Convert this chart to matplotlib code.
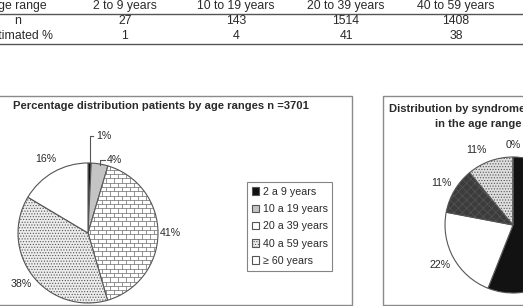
import matplotlib
matplotlib.use('Agg')
import matplotlib.pyplot as plt
import numpy as np
from matplotlib.collections import LineCollection
from matplotlib.patches import Rectangle

plt.rcParams['font.family'] = ['Liberation Sans', 'DejaVu Sans']
plt.rcParams['hatch.linewidth'] = 0.5

# ---------------- data ----------------
table_header = ["Age range", "2 to 9 years", "10 to 19 years", "20 to 39 years", "40 to 59 years"]
table_n = [27, 143, 1514, 1408]
table_pct = [1, 4, 41, 38]

age_groups = ["2 a 9 years", "10 a 19 years", "20 a 39 years", "40 a 59 years", "\u2265 60 years"]
age_counts = [27, 143, 1514, 1408, 609]
age_pct_labels = ["1%", "4%", "41%", "38%", "16%"]

syndrome_pct = [56, 22, 11, 11, 0]
syndrome_labels = ["", "22%", "11%", "11%", "0%"]

left_title = "Percentage distribution patients by age ranges n =3701"
right_title_1 = "Distribution by syndromes"
right_title_2 = "in the age range 2 to 9 years"

# ---------------- figure ----------------
W, H = 523, 306
fig = plt.figure(figsize=(W / 100, H / 100), dpi=100)
bg = fig.add_axes([0, 0, 1, 1])
bg.set_xlim(0, W)
bg.set_ylim(H, 0)
bg.axis('off')

TXT = '#2a2a2a'
LINE = '#555555'
FS = 8.8
LFS = 7.7

# table
col_x = [18, 125, 236, 346, 456]
bg.text(col_x[0], 6, table_header[0], ha='center', va='center', fontsize=FS, color=TXT)
for x, s in zip(col_x[1:], table_header[1:]):
    bg.text(x, 6, s, ha='center', va='center', fontsize=FS, color=TXT)
bg.text(col_x[0], 21, "n", ha='center', va='center', fontsize=FS, color=TXT)
bg.text(col_x[0], 36, "Estimated %", ha='center', va='center', fontsize=FS, color=TXT)
for x, v in zip(col_x[1:], table_n):
    bg.text(x, 21, str(v), ha='center', va='center', fontsize=FS, color=TXT)
for x, v in zip(col_x[1:], table_pct):
    bg.text(x, 36, str(v), ha='center', va='center', fontsize=FS, color=TXT)
bg.plot([0, W], [14, 14], color=LINE, lw=1)
bg.plot([0, W], [44, 44], color=LINE, lw=1)

# panel frames
bg.add_patch(Rectangle((-5, 96), 357, 209, fill=False, ec='#8a8a8a', lw=1))
bg.add_patch(Rectangle((383, 96), 200, 209, fill=False, ec='#8a8a8a', lw=1))

# titles (fit width)
t1 = bg.text(13, 106, left_title, fontsize=9, fontweight='bold', color=TXT, va='center', ha='left')
fig.canvas.draw()
r = fig.canvas.get_renderer()
w = t1.get_window_extent(r).width
tfs = 9 * 297 / w
t1.set_fontsize(tfs)
bg.text(389, 109, right_title_1, fontsize=tfs, fontweight='bold', color=TXT, va='center', ha='left')
bg.text(435, 124, right_title_2, fontsize=tfs, fontweight='bold', color=TXT, va='center', ha='left')

# ---------------- left pie ----------------
cxL, cyL, rL = 88, 233, 70
axL = fig.add_axes([(cxL - rL) / W, (H - cyL - rL) / H, 2 * rL / W, 2 * rL / H])
colorsL = ['#111111', '#c4c4c4', 'white', '#ececec', 'white']
wedgesL, _ = axL.pie(age_counts, colors=colorsL, startangle=90, counterclock=False,
                     wedgeprops=dict(edgecolor=LINE, linewidth=0.8))
wedgesL[3].set_hatch('......')
axL.set_xlim(-1, 1)
axL.set_ylim(-1, 1)
axL.axis('off')

# brick texture for 20-39 wedge
dy = 4.3 / rL
bw = 8.0 / rL
segs = []
for i, y in enumerate(np.arange(-1.0, 1.0, dy)):
    segs.append([(-1, y), (1, y)])
    off = (i % 2) * bw / 2
    for x in np.arange(-1 + off, 1, bw):
        segs.append([(x, y), (x, y + dy)])
lc = LineCollection(segs, colors='#6a6a6a', linewidths=0.5)
axL.add_collection(lc)
lc.set_clip_path(wedgesL[2])

def mid_angle(wd):
    return np.deg2rad((wd.theta1 + wd.theta2) / 2)

label_dist = [None, None, 1.17, 1.2, 1.21]
for i, wd in enumerate(wedgesL):
    a = mid_angle(wd)
    if i == 0:
        x0 = np.cos(a)
        axL.plot([x0, x0, x0 + 0.05], [np.sin(a), 1.39, 1.39], color=LINE, lw=0.8, clip_on=False)
        axL.text(x0 + 0.09, 1.39, age_pct_labels[i], fontsize=LFS, color=TXT, va='center', ha='left')
    elif i == 1:
        x0, y0 = np.cos(a), np.sin(a)
        axL.plot([x0, x0, x0 + 0.07], [y0 - 0.01, 1.04, 1.04], color=LINE, lw=0.8, clip_on=False)
        axL.text(x0 + 0.1, 1.04, age_pct_labels[i], fontsize=LFS, color=TXT, va='center', ha='left')
    else:
        d = label_dist[i]
        axL.text(d * np.cos(a), d * np.sin(a), age_pct_labels[i], fontsize=LFS, color=TXT,
                 va='center', ha='center')

leg = fig.legend(wedgesL, age_groups, loc='upper left', bbox_to_anchor=(247 / W, 1 - 182 / H),
                 frameon=True, fancybox=False, edgecolor='#666666', fontsize=LFS,
                 handlelength=0.7, handleheight=0.7, handletextpad=0.3, labelspacing=0.68,
                 borderpad=0.45, borderaxespad=0)
leg.get_frame().set_linewidth(0.8)
for t in leg.get_texts():
    t.set_color(TXT)

# ---------------- right pie ----------------
cxR, cyR, rR = 513, 225, 68
axR = fig.add_axes([(cxR - rR) / W, (H - cyR - rR) / H, 2 * rR / W, 2 * rR / H])
colorsR = ['#121212', 'white', '#3c3c3c', '#dedede', '#888888']
wedgesR, _ = axR.pie(syndrome_pct, colors=colorsR, startangle=90, counterclock=False,
                     wedgeprops=dict(edgecolor=LINE, linewidth=0.8))
wedgesR[2].set_hatch('xxxx')
wedgesR[3].set_hatch('......')
axR.set_xlim(-1, 1)
axR.set_ylim(-1, 1)
axR.axis('off')
shiftR = [0, 0, 0, 6, 0]
distR = [1.22, 1.22, 1.22, 1.23, 1.18]
for i, wd in enumerate(wedgesR):
    if not syndrome_labels[i]:
        continue
    a = mid_angle(wd) + np.deg2rad(shiftR[i])
    axR.text(distR[i] * np.cos(a), distR[i] * np.sin(a), syndrome_labels[i], fontsize=LFS,
             color=TXT, va='center', ha='center')

fig.savefig('out.png', dpi=100)
